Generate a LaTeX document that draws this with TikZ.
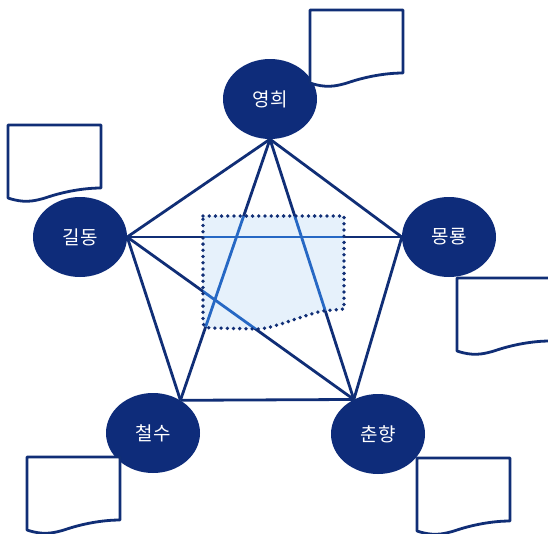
\documentclass[tikz,border=0pt]{standalone}
\usepackage{fontspec}
\newfontfamily\krfont{Noto Sans CJK KR}
\usetikzlibrary{shapes.geometric}
\definecolor{NodeClr}{RGB}{14,44,122}
\definecolor{LinkClr}{RGB}{16,46,118}
\definecolor{InnerClr}{RGB}{38,104,196}
\definecolor{AreaClr}{RGB}{230,241,251}

\tikzset{
  person/.style={ellipse,fill=NodeClr,text=white,inner sep=0pt,
    minimum width=94pt,minimum height=80pt,font=\krfont\fontsize{19}{22}\selectfont},
  link/.style={line width=2.8pt,color=LinkClr},
  memo/.pic={\draw[line width=2.8pt,color=LinkClr,fill=white,line join=round]
    (0,0) -- (93,0) -- (93,63) .. controls (75,63) and (55,67) .. (40,72)
    .. controls (25,77) and (15,78) .. (0,73) -- cycle;}
}

\begin{document}
\begin{tikzpicture}[x=1pt,y=-1pt]
\clip (0,0) rectangle (548,533);
\fill[white] (0,0) rectangle (548,533);

\node[person] (yh) at (270,99) {영희};
\node[person] (gd) at (80,237) {길동};
\node[person] (mr) at (449,237) {몽룡};
\node[person] (cs) at (153,433) {철수};
\node[person] (ch) at (378,434) {춘향};

\def\edges{yh.south/gd.east,yh.south/mr.west,yh.south/cs.50,yh.south/ch.125,
  gd.east/mr.west,gd.east/cs.50,gd.east/ch.125,mr.west/ch.125,cs.50/ch.125}
\def\area{(203,216) -- (344,216) -- (344,309) -- (322,311)
  .. controls (295,318) and (275,328) .. (258,329) -- (212,328)
  .. controls (206,328) and (203,326) .. (203,322) -- cycle}

\foreach \a/\b in \edges \draw[link] (\a) -- (\b);

% shaded area over the lines
\fill[AreaClr] \area;
\begin{scope}
\clip \area;
\foreach \a/\b in \edges \draw[link,color=InnerClr] (\a) -- (\b);
\end{scope}
\draw[LinkClr,line width=3.8pt,line cap=round,dash pattern=on 0pt off 6.2pt] \area;

\pic at (310,10) {memo};
\pic at (8,125) {memo};
\pic at (457,278) {memo};
\pic at (27,457) {memo};
\pic at (417,458) {memo};
\end{tikzpicture}
\end{document}
